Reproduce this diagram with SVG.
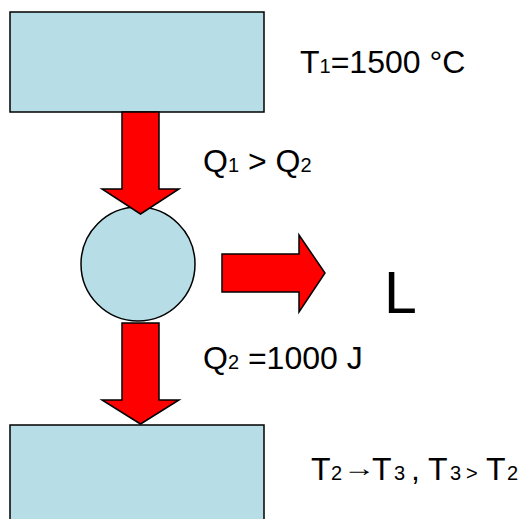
<svg xmlns="http://www.w3.org/2000/svg" width="522" height="519" viewBox="0 0 522 519">
<style>
.box{fill:#b7dde6;stroke:#000;stroke-width:1.5}
.arr{fill:#ff0000;stroke:#000;stroke-width:1.5;stroke-linejoin:miter}
text{font-family:"Liberation Sans",Arial,sans-serif;fill:#000}
.t{font-size:32px}
.s{font-size:20px}
</style>
<rect width="522" height="519" fill="#fff"/>
<g id="hot">
<rect class="box" x="10" y="12" width="254" height="100"/>
<text class="t" x="300" y="73">T<tspan class="s">1</tspan>=1500 °C</text>
</g>
<g id="engine">
<circle class="box" cx="138" cy="264" r="57"/>
</g>
<g id="cold">
<rect class="box" x="10" y="425" width="254" height="110"/>
<text class="t" y="480"><tspan x="311">T</tspan><tspan class="s" x="331">2</tspan></text>
<text transform="translate(343,476) scale(1.35,1)" font-family="'DejaVu Sans',sans-serif" font-size="24px">→</text>
<text class="t" y="480"><tspan x="372">T</tspan><tspan class="s" x="394">3</tspan><tspan x="411">,</tspan><tspan x="428">T</tspan><tspan class="s" x="450">3</tspan><tspan class="s" x="466">&gt;</tspan><tspan x="486">T</tspan><tspan class="s" x="507">2</tspan></text>
</g>
<g id="work">
<text x="384" y="313" font-size="59px">L</text>
</g>
<g id="connectors">
<polygon class="arr" points="122,112 159,112 159,189 179,189 140.5,214 102,189 122,189"/>
<polygon class="arr" points="122,323 159,323 159,400 179,400 140.5,424 102,400 122,400"/>
<polygon class="arr" points="222,254 299,254 299,235 325,273 299,312 299,292 222,292"/>
<text class="t" x="203" y="172">Q<tspan class="s">1</tspan> &gt; Q<tspan class="s">2</tspan></text>
<text class="t" x="203" y="369">Q<tspan class="s">2</tspan> =1000 J</text>
</g>
</svg>
